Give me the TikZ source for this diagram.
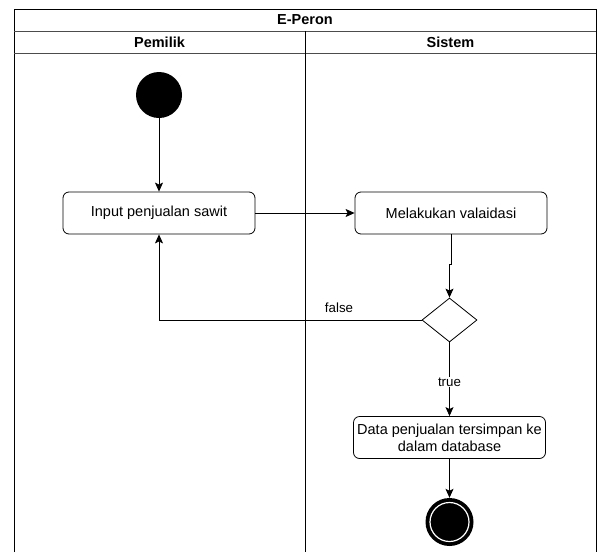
\documentclass[tikz,border=0pt]{standalone}
\usepackage{fontspec}
\setmainfont{Liberation Sans}
\usetikzlibrary{shapes.geometric,arrows.meta}
\begin{document}
\begin{tikzpicture}[x=1pt,y=-1pt,
  frameline/.style={draw=black, line width=1pt},
  headline/.style={draw=black!70, line width=1pt},
  headtext/.style={font=\fontsize{14.5}{17}\selectfont\bfseries, inner sep=0pt},
  action/.style={draw=black, rounded corners=6pt, minimum width=192pt, minimum height=42pt,
    inner sep=0pt, align=center, font=\fontsize{14.5}{17}\selectfont, line width=0.8pt},
  decision/.style={draw=black, diamond, minimum width=55pt, minimum height=44pt, inner sep=0pt, line width=0.8pt},
  startnode/.style={circle, fill=black, minimum size=46pt, inner sep=0pt},
  endnode/.style={circle, fill=black, minimum size=48pt, inner sep=0pt},
  flow/.style={draw=black, line width=0.8pt, -{Stealth[length=9pt,width=8pt,inset=2pt]}},
  plainflow/.style={draw=black, line width=0.8pt},
  guard/.style={font=\fontsize{13.3}{16}\selectfont, inner sep=1pt, fill=white}
]
\useasboundingbox (0,0) rectangle (602,552);

% swimlane frame
\draw[frameline] (14,552) -- (14,9) -- (596,9) -- (596,552);
\draw[headline] (14,31) -- (596,31);
\draw[headline] (14,53) -- (596,53);
\draw[frameline] (305,31) -- (305,552);
\node[headtext] (title) at (305,20) {E-Peron};
\node[headtext] (lanea) at (159.5,42) {Pemilik};
\node[headtext] (laneb) at (450.5,42) {Sistem};

% activity nodes
\node[startnode] (start) at (159,95) {};
\node[action] (input) at (159,213) {Input penjualan sawit};
\node[action] (valid) at (451,213) {Melakukan valaidasi};
\node[decision] (check) at (449.5,320) {};
\node[action] (store) at (449.5,437.5) {Data penjualan tersimpan ke\\dalam database};
\node[endnode] (finish) at (449.5,522) {};
\draw[white, line width=1.2pt] (finish.center) circle (19.5pt);

% control flow
\draw[flow] (start) -- (input);
\draw[flow] (input) -- (valid);
\draw[flow] (valid.south) -- ++(0,30) -| (check.north);
\draw[flow] (check.west) -| (input.south);
\node[guard] (lblfalse) at (339,308) {false};
\draw[flow] (check.south) -- (store.north);
\node[guard] (lbltrue) at (449.5,382) {true};
\draw[flow] (store.south) -- (finish.north);
\end{tikzpicture}
\end{document}
